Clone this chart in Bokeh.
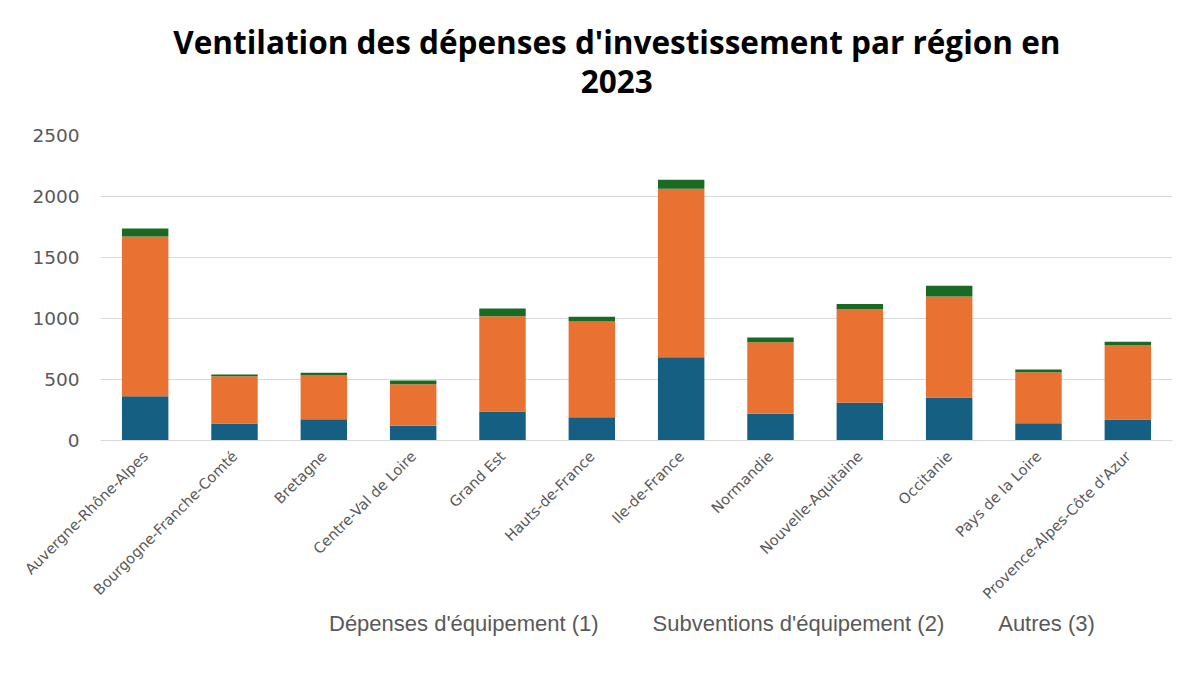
import math
from bokeh.plotting import figure
from bokeh.layouts import column
from bokeh.models import Legend, LegendItem, FixedTicker, ColumnDataSource, Range1d
from bokeh.core.properties import value
from bokeh.embed import file_html
from bokeh.resources import INLINE

regions = ["Auvergne-Rhône-Alpes", "Bourgogne-Franche-Comté", "Bretagne", "Centre-Val de Loire",
           "Grand Est", "Hauts-de-France", "Ile-de-France", "Normandie", "Nouvelle-Aquitaine",
           "Occitanie", "Pays de la Loire", "Provence-Alpes-Côte d'Azur"]
equipement = [363, 139, 175, 120, 238, 191, 683, 219, 309, 353, 142, 172]
subventions = [1310, 388, 361, 342, 781, 785, 1381, 587, 768, 828, 418, 610]
autres = [65, 14, 19, 30, 63, 38, 74, 39, 41, 87, 22, 27]
series_names = ["Dépenses d'équipement (1)", "Subventions d'équipement (2)", "Autres (3)"]
title_lines = ["Ventilation des dépenses d'investissement par région en", "2023"]
y_ticks = [0, 500, 1000, 1500, 2000, 2500]
colors = ["#156082", "#E97132", "#196B24"]

# ---- title strip ----
pt = figure(width=1200, height=120, x_range=Range1d(0, 1200), y_range=Range1d(120, 0),
            output_backend="svg", toolbar_location=None, min_border=0)
pt.xaxis.visible = False
pt.yaxis.visible = False
pt.grid.grid_line_color = None
pt.outline_line_color = None
pt.text(x=[578, 578], y=[41, 81], text=title_lines, text_align="center", text_baseline="middle",
        text_font=value("Open Sans"), text_font_size="31.5px", text_font_style="bold",
        text_color="#000000")

# ---- chart ----
source = ColumnDataSource(dict(region=regions, equip=equipement, subv=subventions, autres=autres))

p = figure(x_range=regions, y_range=(0, 2500), frame_width=1072, frame_height=305,
           output_backend="svg", toolbar_location=None,
           min_border_left=100, min_border_right=28, min_border_top=15, min_border_bottom=150)
p.outline_line_color = None

renderers = p.vbar_stack(["equip", "subv", "autres"], x="region", width=0.52,
                         fill_color=colors, line_color=None, source=source)

p.yaxis.ticker = FixedTicker(ticks=y_ticks)
p.yaxis.axis_line_color = None
p.yaxis.major_tick_line_color = None
p.yaxis.major_tick_out = 0
p.yaxis.minor_tick_line_color = None
p.yaxis.major_label_text_font = "DejaVu Sans"
p.yaxis.major_label_text_font_size = "18.5px"
p.yaxis.major_label_text_color = "#595959"
p.yaxis.major_label_standoff = 21

p.xaxis.axis_line_color = "#D9D9D9"
p.xaxis.major_tick_line_color = None
p.xaxis.major_tick_out = 0
p.xaxis.minor_tick_line_color = None
p.xaxis.major_label_orientation = math.pi / 4
p.xaxis.major_label_text_font = "DejaVu Sans"
p.xaxis.major_label_text_font_size = "14.6px"
p.xaxis.major_label_text_color = "#595959"
p.xaxis.major_label_standoff = 13

p.xgrid.grid_line_color = None
p.ygrid.ticker = FixedTicker(ticks=y_ticks)
p.ygrid.grid_line_color = "#D9D9D9"
p.ygrid.grid_line_width = 1

# ---- legend strip ----
pl = figure(width=1200, height=26, x_range=Range1d(0, 1), y_range=Range1d(0, 1),
            output_backend="svg", toolbar_location=None, min_border=0)
pl.xaxis.visible = False
pl.yaxis.visible = False
pl.grid.grid_line_color = None
pl.outline_line_color = None
proxies = [pl.vbar(x=[], top=[], width=0.5, fill_color=c, line_color=None) for c in colors]
legend = Legend(items=[LegendItem(label=n, renderers=[r]) for n, r in zip(series_names, proxies)],
                orientation="horizontal", location=(212, 0), border_line_color=None,
                background_fill_alpha=0,
                label_text_font="Liberation Sans", label_text_font_size="22px",
                label_text_color="#595959", glyph_width=14, glyph_height=14,
                spacing=37, label_standoff=3, margin=0, padding=0)
pl.add_layout(legend, "center")

layout = column(pt, p, pl, spacing=0)
open("out.html", "w").write(file_html(layout, INLINE))
